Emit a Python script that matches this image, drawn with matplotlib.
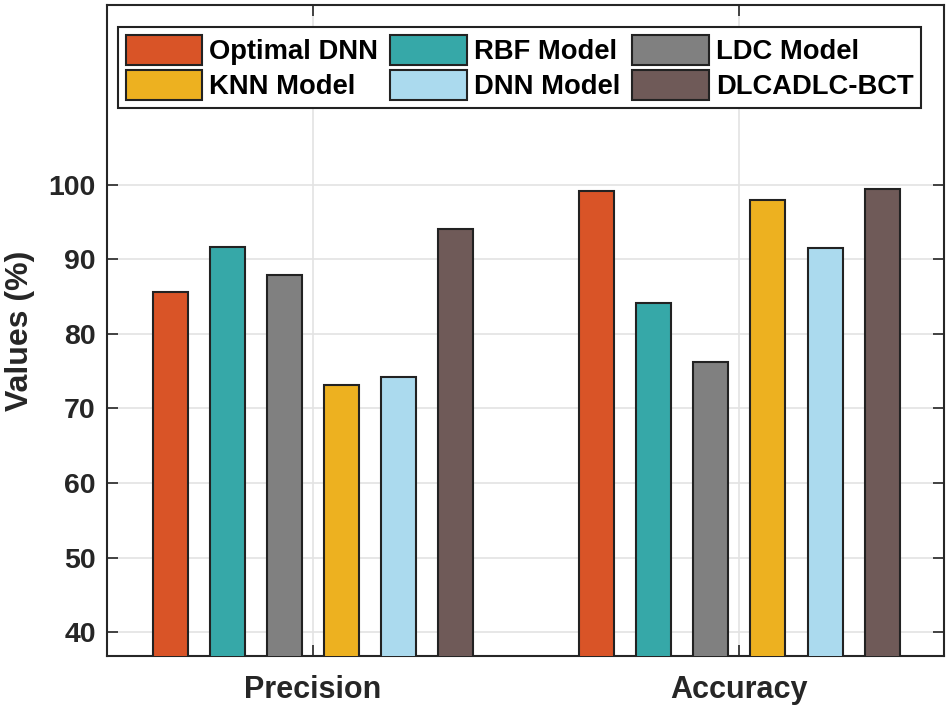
import numpy as np
import matplotlib
matplotlib.use('Agg')
import matplotlib.pyplot as plt

# data
categories = ['Precision', 'Accuracy']
models = ['Optimal DNN', 'RBF Model', 'LDC Model', 'KNN Model', 'DNN Model', 'DLCADLC-BCT']
optimal_dnn = [85.6, 99.2]
rbf_model = [91.7, 84.1]
ldc_model = [87.9, 76.2]
knn_model = [73.2, 97.9]
dnn_model = [74.2, 91.5]
dlcadlc_bct = [94.1, 99.4]
series = [optimal_dnn, rbf_model, ldc_model, knn_model, dnn_model, dlcadlc_bct]
colors = ['#D95427', '#36A8A8', '#808080', '#EDB120', '#ABDAEE', '#6F5A58']

plt.rcParams['font.family'] = ['Liberation Sans', 'DejaVu Sans']
plt.rcParams['font.weight'] = 'bold'

fig = plt.figure(figsize=(9.5, 7.11), dpi=100)
ax = fig.add_axes([0.1126, 0.0774, 0.8811, 0.9156])

x = np.arange(1, len(categories) + 1)
step = 0.134
width = 0.082
bars = []
for i, (vals, c) in enumerate(zip(series, colors)):
    off = (i - (len(series) - 1) / 2) * step
    b = ax.bar(x + off, vals, width, color=c, edgecolor='#222222', linewidth=1.5,
               label=models[i], zorder=3)
    bars.append(b)

ax.set_xlim(0.517, 2.48)
ax.set_ylim(36.8, 124.1)
ax.set_yticks([40, 50, 60, 70, 80, 90, 100])
ax.set_xticks(x)
ax.set_xticklabels(categories, fontsize=22, fontweight='bold')
ax.tick_params(axis='y', labelsize=20.5, direction='in', length=8, width=1.2,
               right=True, colors='#262626', labelcolor='#262626', pad=8)
ax.tick_params(axis='x', direction='in', length=8, width=1.2, top=True,
               colors='#262626', labelcolor='#262626', pad=14)
for t in ax.get_yticklabels():
    t.set_fontweight('bold')
ax.set_ylabel('Values (%)', fontsize=23, fontweight='bold', color='#262626', labelpad=10)

ax.grid(True, color='#E3E3E3', linewidth=1.2, zorder=0)
ax.set_axisbelow(True)
for s in ax.spines.values():
    s.set_color('#262626')
    s.set_linewidth(1.5)

# legend is column-major in matplotlib, reorder to match the 3x2 layout
order = [0, 3, 1, 4, 2, 5]
leg = ax.legend([bars[i] for i in order], [models[i] for i in order], ncol=3,
                loc='upper left', bbox_to_anchor=(0.013, 0.966),
                prop={'size': 19.7, 'weight': 'bold'}, fancybox=False,
                edgecolor='#222222', framealpha=1, handlelength=2.8,
                handleheight=1.3, handletextpad=0.25, columnspacing=0.45,
                labelspacing=0.18, borderpad=0.28, borderaxespad=0)
leg.get_frame().set_linewidth(1.5)

fig.savefig('out.png', dpi=100)
